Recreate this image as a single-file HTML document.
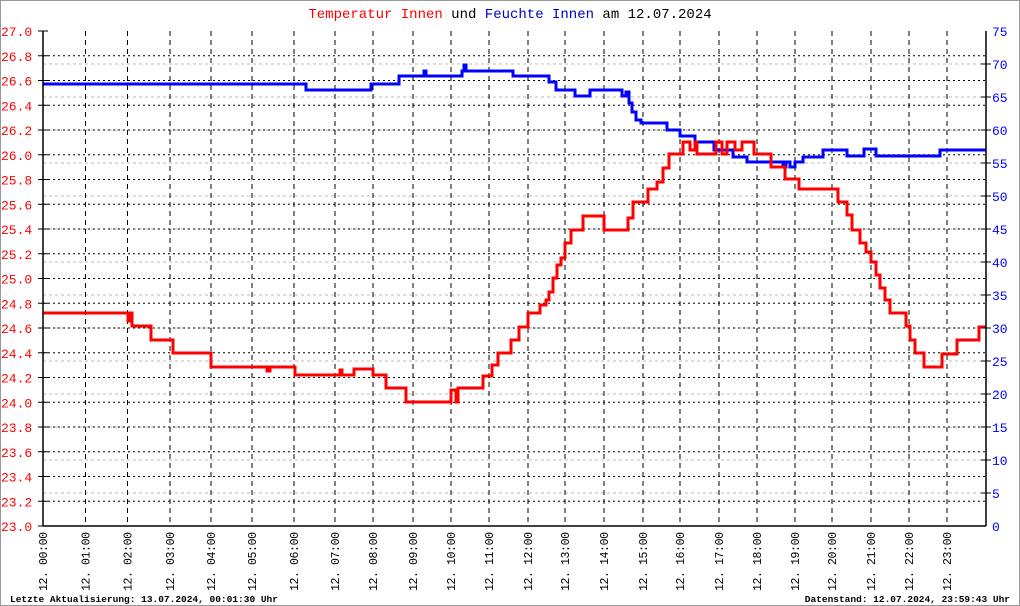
<!DOCTYPE html>
<html><head><meta charset="utf-8"><style>
html,body{margin:0;padding:0;background:#fff}
svg{display:block}
text{font-family:"Liberation Mono","DejaVu Sans Mono",monospace}
</style></head><body>
<svg width="1020" height="606" viewBox="0 0 1020 606" xmlns="http://www.w3.org/2000/svg">
<rect x="0.5" y="0.5" width="1019" height="605" fill="#fff" stroke="#999"/>
<text x="510" y="18" font-size="14" text-anchor="middle"><tspan fill="#f00">Temperatur Innen</tspan><tspan fill="#000"> und </tspan><tspan fill="#00c">Feuchte Innen</tspan><tspan fill="#000"> am 12.07.2024</tspan></text>
<g id="hgrid"></g>
<g id="vgrid"></g>
<path id="hum" fill="none" stroke="#00f" stroke-width="3" d=""/>
<path id="tmp" fill="none" stroke="#f00" stroke-width="3" d=""/>
<line x1="43" y1="31" x2="43" y2="526" stroke="#000" stroke-width="1.5"/>
<line x1="986" y1="31" x2="986" y2="526" stroke="#000" stroke-width="1.5"/>
<line x1="43" y1="526" x2="986" y2="526" stroke="#000" stroke-width="1.5"/>
<g id="labels"></g>
<text x="10" y="602" font-size="9.5" fill="#000" font-weight="bold">Letzte Aktualisierung: 13.07.2024, 00:01:30 Uhr</text>
<text x="1010" y="602" font-size="9.5" fill="#000" font-weight="bold" text-anchor="end">Datenstand: 12.07.2024, 23:59:43 Uhr</text>
</svg>
<script>
var NS="http://www.w3.org/2000/svg";
function el(t,a,p,txt){var e=document.createElementNS(NS,t);for(var k in a)e.setAttribute(k,a[k]);if(txt!=null)e.textContent=txt;document.getElementById(p).appendChild(e);return e;}
for(var h=5;h<75;h+=5){var y=526-h*6.6;el('line',{x1:43,x2:986,y1:y,y2:y,stroke:'#bbb','stroke-dasharray':'3,3'},'hgrid');
el('line',{x1:981,x2:991,y1:y,y2:y,stroke:'#000'},'labels');}
for(var h=0;h<=75;h+=5){var y=526-h*6.6;el('text',{x:992,y:y+5,'font-size':13,fill:'#00f'},'labels',String(h));}
for(var i=0;i<=20;i++){var y=526-i*24.75;if(i>0&&i<20)el('line',{x1:43,x2:986,y1:y,y2:y,stroke:'#000','stroke-dasharray':'2,3'},'hgrid');
el('line',{x1:38,x2:48,y1:y,y2:y,stroke:'#000'},'labels');
el('text',{x:1,y:y+5,'font-size':13,fill:'#f00'},'labels',(23+i*0.2).toFixed(1));}
var xs=[43,85.5,127.5,170,211,252,294,335,373,413,451,489,528,565,604,643,680,719,757,795,832,871,909,947];
for(var i=0;i<xs.length;i++){var x=xs[i];if(i>0)el('line',{x1:x,x2:x,y1:31,y2:526,stroke:'#000','stroke-dasharray':'5,4'},'vgrid');
el('text',{x:0,y:0,'font-size':11.5,fill:'#000',textLength:59,lengthAdjust:'spacing',transform:'translate('+(x+4)+',591) rotate(-90)'},'labels','12. '+(i<10?'0':'')+i+':00');}
var T=[[43,313],[127,313],[128,321],[131,313],[132,326],[150,326],[151,340],[172,340],[173,353],[210,353],[211,367],[265,367],[267,371],[270,367],[292,367],[295,375],[338,375],[340,370],[342,375],[352,375],[354,369],[372,369],[373,375],[385,375],[386,388],[406,388],[406,402],[450,402],[451,390],[456,402],[458,388],[482,388],[483,376],[491,376],[492,365],[498,353],[510,353],[511,340],[518,340],[519,327],[527,327],[528,313],[536,313],[540,305],[546,300],[549,292],[553,278],[557,265],[561,258],[565,243],[571,230],[583,230],[583,216],[603,216],[604,230],[627,230],[628,218],[633,202],[647,202],[648,189],[657,189],[657,182],[663,182],[663,168],[668,168],[669,154],[682,154],[683,142],[690,150],[695,142],[697,154],[715,154],[716,142],[722,154],[727,142],[735,150],[742,142],[753,142],[754,154],[770,154],[771,167],[784,167],[785,179],[798,179],[799,189],[836,189],[838,202],[845,202],[847,215],[852,230],[860,243],[866,252],[871,262],[876,275],[880,288],[885,300],[890,313],[903,313],[906,326],[910,340],[915,353],[922,353],[924,367],[940,367],[942,354],[955,354],[957,340],[978,340],[979,327],[986,327]];
var H=[[43,84],[305,84],[306,90],[370,90],[371,84],[398,84],[399,76],[422,76],[424,71],[426,76],[460,76],[462,71],[464,65],[466,71],[512,71],[513,76],[548,76],[549,82],[556,82],[556,90],[573,90],[575,96],[589,96],[590,90],[620,90],[622,96],[626,92],[629,103],[632,112],[636,120],[641,123],[665,123],[667,130],[676,130],[680,136],[694,136],[695,142],[713,142],[714,150],[733,150],[733,157],[746,157],[747,162],[780,162],[783,167],[786,162],[790,167],[795,162],[803,162],[803,157],[822,157],[823,150],[846,150],[847,156],[862,156],[864,149],[874,149],[876,156],[940,156],[940,150],[986,150]];
function stepPath(a){var d='M'+a[0][0]+' '+a[0][1];for(var i=1;i<a.length;i++){d+=' H'+a[i][0]+' V'+a[i][1];}return d;}
document.getElementById('tmp').setAttribute('d',stepPath(T));
document.getElementById('hum').setAttribute('d',stepPath(H));
</script>
</body></html>
